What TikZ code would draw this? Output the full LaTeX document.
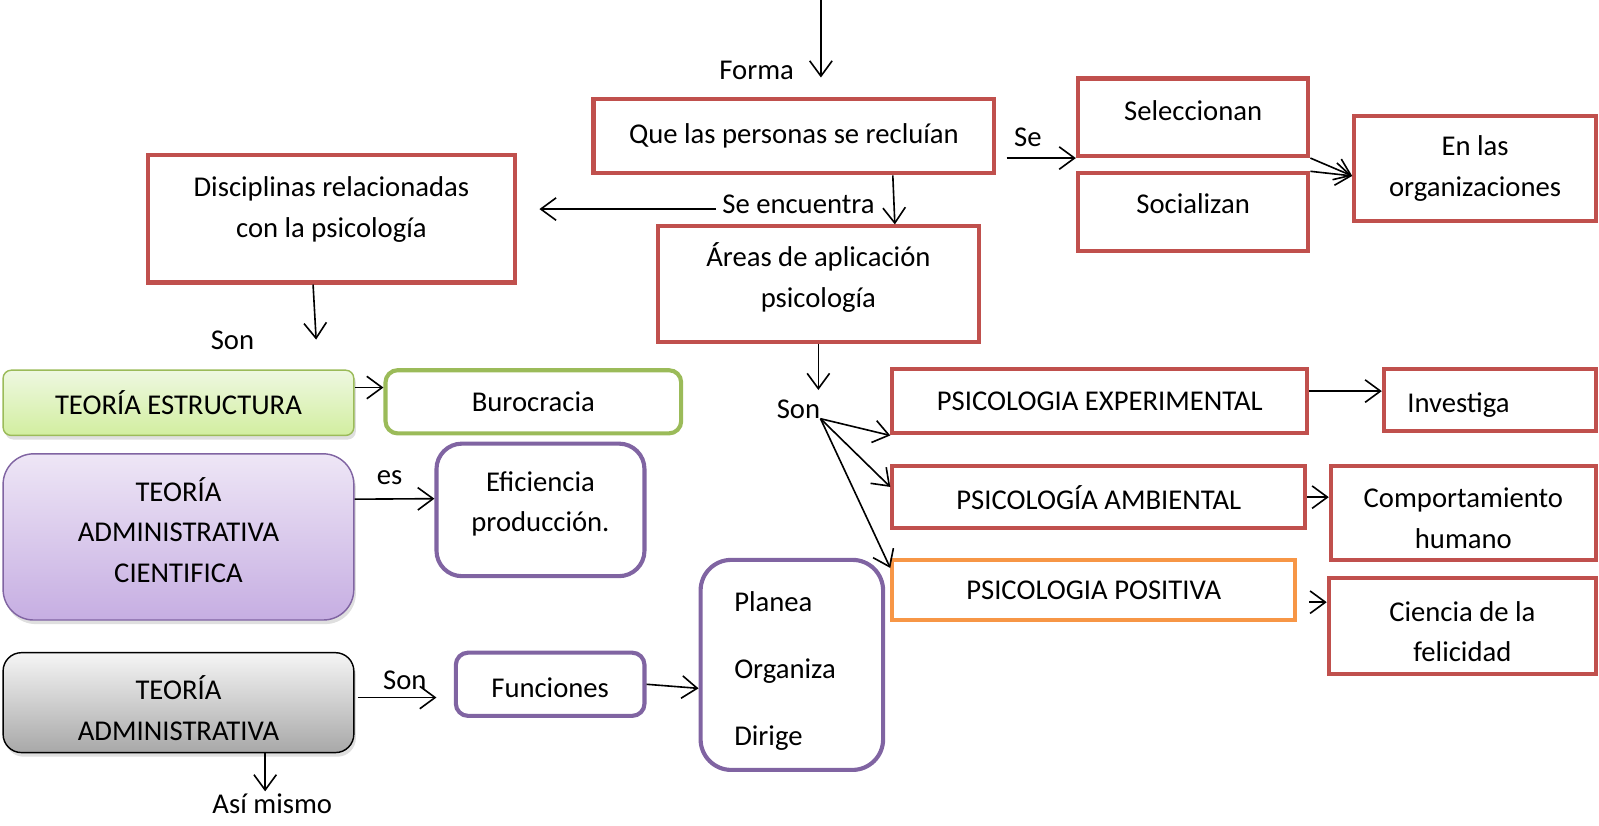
\documentclass[tikz,border=0pt]{standalone}
\usepackage{fontspec}
\setmainfont{Carlito}
\usetikzlibrary{calc, arrows.meta, shadows}
\definecolor{rojo}{HTML}{C0504D}
\definecolor{verde}{HTML}{9BBB59}
\definecolor{morado}{HTML}{8064A2}
\definecolor{naranja}{HTML}{F79646}
\definecolor{verdeA}{HTML}{EEF8E1}
\definecolor{verdeB}{HTML}{D2EEA0}
\definecolor{moradoA}{HTML}{EEE6F6}
\definecolor{moradoB}{HTML}{C6AEE2}
\definecolor{grisA}{HTML}{F5F5F5}
\definecolor{grisB}{HTML}{A8A8A8}
\newcommand{\bajo}[1]{\vrule width 0pt height #1\relax}
\newcommand{\alto}[1]{\vrule width 0pt height 0pt depth #1\relax}

\begin{document}
\begin{tikzpicture}[x=0.02cm, y=-0.02cm,
    every node/.style={font=\fontsize{16}{22.7}\selectfont, align=center},
    caja/.style={draw=#1, line width=2.3pt},
    caja/.default=rojo,
    marco/.style={draw=#1, line width=2.3pt, rounded corners=0.24cm},
    teoria/.style 2 args={draw=#1, line width=0.8pt, top color=#2A, bottom color=#2B,
      drop shadow={opacity=0.25, shadow xshift=0.04cm, shadow yshift=-0.08cm}},
    flecha/.style={line width=0.9pt, -{Straight Barb[length=0.3cm, width=0.44cm]}}]
      \useasboundingbox (0, 0) rectangle (1568, 809);

      \node[caja, minimum width=7.86cm, minimum height=1.46cm] (1) at (778.5, 133.5) {Que las personas se recluían};
      \node[caja, minimum width=4.52cm, minimum height=1.52cm] (2) at (1170, 115) {Seleccionan\alto{7.9pt}};
      \node[caja, minimum width=4.52cm, minimum height=1.52cm] (3) at (1170, 208) {Socializan\alto{9.1pt}};
      \node[caja, minimum width=4.74cm, minimum height=2.06cm] (4) at (1446.5, 165.5) {En las\\organizaciones};
      \node[caja, minimum width=7.2cm, minimum height=2.5cm] (5) at (325, 214.5) {Disciplinas relacionadas\\con la psicología\alto{13.1pt}};
      \node[caja, minimum width=6.3cm, minimum height=2.26cm] (6) at (802.5, 278.5) {Áreas de aplicación\\psicología\alto{9.7pt}};
      \node[inner sep=0pt] (7) at (783, 401) {Son};
      \node[caja, minimum width=8.14cm, minimum height=1.26cm] (8) at (1078.5, 393.5) {PSICOLOGIA EXPERIMENTAL};
      \node[caja, minimum height=1.22cm, text width=3.24cm, inner xsep=0.46cm, align=left] (9) at (1461, 392.5) {\bajo{16pt}Investiga};
      \node[caja, minimum width=8.1cm, minimum height=1.22cm] (10) at (1077.5, 487.5) {PSICOLOGÍA AMBIENTAL};
      \node[caja, minimum width=5.2cm, minimum height=1.84cm] (11) at (1435, 503) {\bajo{16.7pt}Comportamiento\\humano};
      \node[caja=naranja, minimum width=7.9cm, minimum height=1.18cm] (12) at (1072.5, 578.5) {PSICOLOGIA POSITIVA};
      \node[caja, minimum width=5.24cm, minimum height=1.88cm] (13) at (1434, 614) {\bajo{17.4pt}Ciencia de la\\felicidad};
      \node[marco=morado, rounded corners=0.6cm, minimum height=4.12cm, text width=2.26cm, inner xsep=0.66cm, align=left] (14) at (776.5, 652) {\bajo{18.4pt}Planea\\[14.7pt]Organiza\\[14.7pt]Dirige};

      \node[teoria={verde}{verde}, rounded corners=0.16cm, minimum width=6.88cm, minimum height=1.28cm] (15) at (175, 395) {TEORÍA ESTRUCTURA};
      \node[marco=verde, minimum width=5.8cm, minimum height=1.24cm] (16) at (523, 394) {Burocracia};
      \node[teoria={morado}{morado}, rounded corners=0.6cm, minimum width=6.88cm, minimum height=3.26cm] (17) at (175, 526.5) {TEORÍA\\ADMINISTRATIVA\\CIENTIFICA\alto{7.9pt}};
      \node[marco=morado, rounded corners=0.5cm, minimum width=4.08cm, minimum height=2.6cm] (18) at (530, 500) {Eficiencia\\producción.\alto{9.1pt}};
      \node[teoria={black}{gris}, rounded corners=0.36cm, minimum width=6.88cm, minimum height=1.96cm] (19) at (175, 689) {\bajo{19.8pt}TEORÍA\\ADMINISTRATIVA};
      \node[marco=morado, minimum width=3.7cm, minimum height=1.24cm] (20) at (539.5, 671) {\bajo{14.8pt}Funciones};

      \node (21) at (742, 69) {Forma};
      \node (22) at (1008, 135) {Se};
      \node (23) at (783, 200) {Se encuentra};
      \node (24) at (228, 334) {Son};
      \node (25) at (382, 468) {es};
      \node (26) at (397, 667) {Son};
      \node (27) at (267, 788) {Así mismo};

      \coordinate (0) at (805, -5);
      \coordinate (28) at (310, 333);
      \coordinate (29) at (260, 776);

      \draw[flecha, shorten >=0.38cm] (0) -- (0 |- 1.north);
      \draw[flecha] ($(1.east |- 2.south)+(10, 0)$) -- (2.south west);
      \draw[flecha] (2.south east) -- ($(4.west)+(0, 7)$);
      \draw[flecha] (3.north east) -- ($(4.west)+(0, 7)$);
      \draw[flecha] ($(1.south)+(97, 0)$) -- ($(6.north)+(75, 0)$);
      \draw[flecha, shorten >=0.44cm] ($(23.west)+(0, 5)$) -- ($(23.west -| 5.east)+(0, 5)$);
      \draw[flecha] ($(5.south)+(-18, 0)$) -- (28);
      \draw[flecha, shorten >=0.18cm] (6.south) -- (6.south |- 7.north);
      \draw[flecha] (7.south east) -- (8.south west);
      \draw[flecha] (7.south east) -- ($(10.west)+(0, -10)$);
      \draw[flecha] (7.south east) -- ($(12.north west)+(0, 10)$);
      \draw[flecha] ($(8.east)+(0, -10)$) -- ($(9.west)+(0, -9)$);
      \draw[flecha] (10.east) -- (10.east -| 11.west);
      \draw[flecha] ($(12.east)+(12, 12)$) -- ($(12.east -| 13.west)+(0, 12)$);
      \draw[flecha] ($(15.east)+(0, -15)$) -- ($(16.west)+(0, -14)$);
      \draw[flecha] ($(17.east)+(0, -37)$) -- ($(18.west)+(0, -11)$);
      \draw[flecha] ($(19.east)+(3, -5)$) -- ($(20.west)+(-17, 13)$);
      \draw[flecha] (20.east) -- ($(14.west)+(0, 23)$);
      \draw[flecha] ($(19.south)+(85, 0)$) -- (29);
    \end{tikzpicture}
\end{document}
